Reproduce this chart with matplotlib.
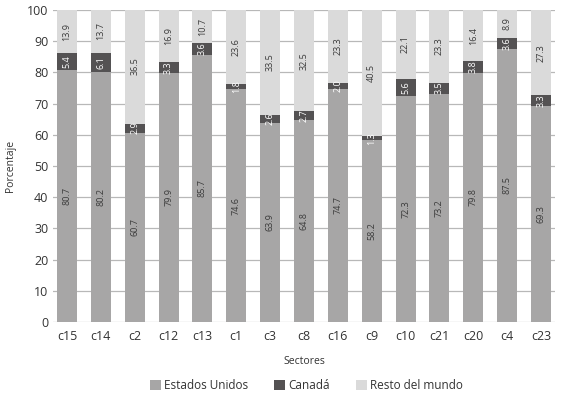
import matplotlib
matplotlib.use('Agg')
import matplotlib.pyplot as plt
import numpy as np

plt.rcParams['font.family'] = ['Open Sans', 'DejaVu Sans']

sectors = ['c15', 'c14', 'c2', 'c12', 'c13', 'c1', 'c3', 'c8', 'c16', 'c9',
           'c10', 'c21', 'c20', 'c4', 'c23']
usa = [80.7, 80.2, 60.7, 79.9, 85.7, 74.6, 63.9, 64.8, 74.7, 58.2,
       72.3, 73.2, 79.8, 87.5, 69.3]
canada = [5.4, 6.1, 2.9, 3.3, 3.6, 1.8, 2.6, 2.7, 2.0, 1.3,
          5.6, 3.5, 3.8, 3.6, 3.3]
rest = [13.9, 13.7, 36.5, 16.9, 10.7, 23.6, 33.5, 32.5, 23.3, 40.5,
        22.1, 23.3, 16.4, 8.9, 27.3]
us_labels = ['80.7', '80.2', '60.7', '79.9', '85.7', '74.6', '63.9', '64.8', '74.7', '58.2',
             '72.3', '73.2', '79.8', '87.5', '69.3']
ca_labels = ['5.4', '6.1', '2.9', '3.3', '3.6', '1.8', '2.6', '2.7', '2.0', '1.3',
             '5.6', '3.5', '3.8', '3.6', '3.3']
rest_labels = ['13.9', '13.7', '36.5', '16.9', '10.7', '23.6', '33.5', '32.5', '23.3', '40.5',
               '22.1', '23.3', '16.4', '8.9', '27.3']

c_us = '#a7a6a6'
c_ca = '#545253'
c_rest = '#dadada'

fig = plt.figure(figsize=(5.65, 3.99), dpi=100)
ax = fig.add_axes([0.094, 0.193, 0.888, 0.782])

x = np.arange(len(sectors))
usa = np.array(usa)
canada = np.array(canada)
rest = np.array(rest)
w = 0.59
ax.bar(x, usa, w, color=c_us, label='Estados Unidos', zorder=3)
ax.bar(x, canada, w, bottom=usa, color=c_ca, label='Canadá', zorder=3)
ax.bar(x, rest, w, bottom=usa + canada, color=c_rest, label='Resto del mundo', zorder=3)

for i in range(len(sectors)):
    ax.text(x[i], usa[i] / 2, us_labels[i], rotation=90, ha='center', va='center',
            fontsize=6.5, color='#3a3a3a', zorder=4)
    ax.text(x[i], usa[i] + canada[i] / 2, ca_labels[i], rotation=90, ha='center', va='center',
            fontsize=6.5, color='white', zorder=4)
    ax.text(x[i], usa[i] + canada[i] + rest[i] / 2, rest_labels[i], rotation=90, ha='center',
            va='center', fontsize=6.5, color='#3a3a3a', zorder=4)

ax.set_xlim(-0.41, 14.41)
ax.set_ylim(0, 100)
ax.set_yticks(range(0, 101, 10))
ax.set_xticks(x)
ax.set_xticklabels(sectors)
ax.tick_params(axis='both', length=0, labelsize=9, colors='#333333')
ax.tick_params(axis='x', pad=6)
ax.grid(axis='y', color='#b8b8b8', linewidth=0.9, zorder=0)
for s in ax.spines.values():
    s.set_visible(False)

ax.set_xlabel('Sectores', fontsize=7.5, color='#333333', labelpad=9)
ax.set_ylabel('Porcentaje', fontsize=7.5, color='#333333', labelpad=8)

ax.legend(loc='center', bbox_to_anchor=(0.505, -0.205), ncol=3, frameon=False,
          fontsize=8.5, handlelength=0.9, handleheight=0.9, handletextpad=0.3,
          columnspacing=2.2, labelcolor='#333333')

fig.savefig('out.png', dpi=100)
